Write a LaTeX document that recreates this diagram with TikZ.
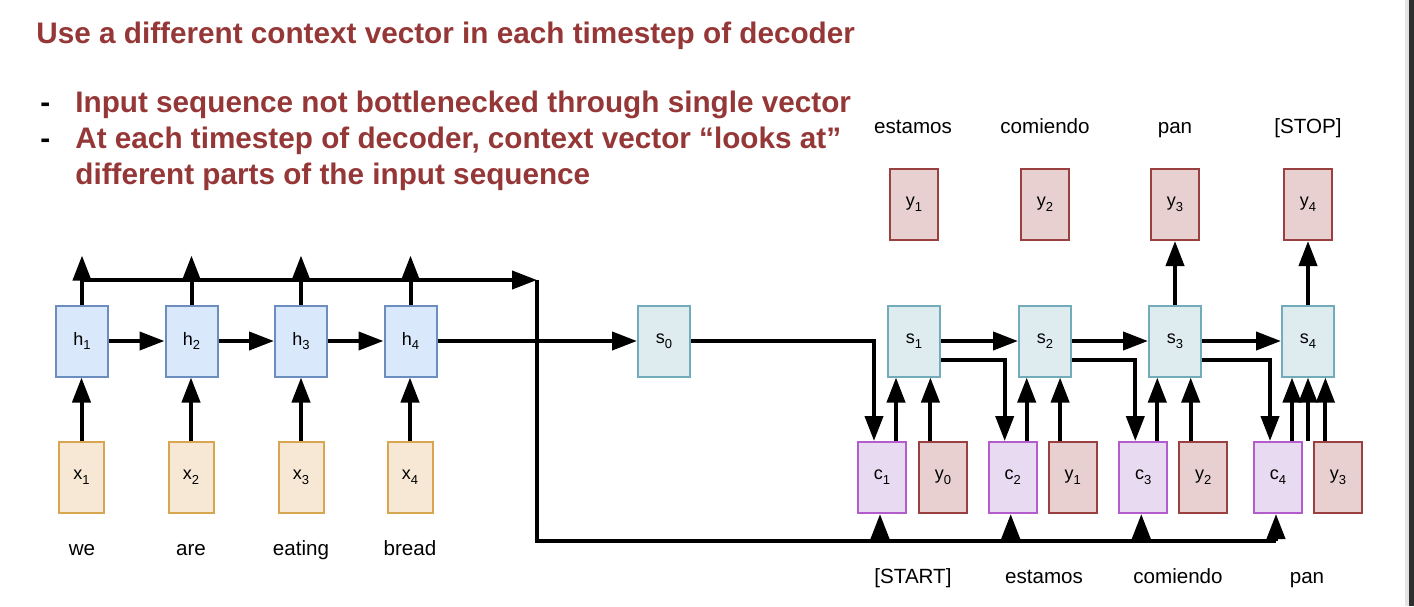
\documentclass[tikz,border=0pt]{standalone}
\usepackage{fontspec}
\setmainfont{Liberation Sans}
\usetikzlibrary{arrows.meta}

\definecolor{titlered}{RGB}{150,55,55}
\definecolor{hfill}{HTML}{DAE8FC}
\definecolor{hdraw}{HTML}{6C8EBF}
\definecolor{xfill}{HTML}{F6E8D4}
\definecolor{xdraw}{HTML}{D8A650}
\definecolor{sfill}{HTML}{DEEBEF}
\definecolor{sdraw}{HTML}{72ABB9}
\definecolor{cfill}{HTML}{E8DAF0}
\definecolor{cdraw}{HTML}{B35DCC}
\definecolor{yfill}{HTML}{E8D0D0}
\definecolor{ydraw}{HTML}{9A4040}
\definecolor{edgedark}{HTML}{2F2F2F}
\definecolor{edgegrey}{HTML}{E4E4E4}

\newcommand{\titlefont}{\fontsize{14.85}{18}\selectfont\bfseries}
\newcommand{\lsub}[1]{\raisebox{-0.5ex}{\fontsize{6.5}{7}\selectfont #1}}

\begin{document}
\begin{tikzpicture}[x=0.5pt,y=-0.5pt,
  txt/.style={inner sep=0pt},
  box/.style={line width=1pt,minimum width=26pt,minimum height=35.5pt,inner sep=0pt,
    font=\fontsize{9}{10}\selectfont},
  hbox/.style={box,draw=hdraw,fill=hfill},
  xbox/.style={box,draw=xdraw,fill=xfill,minimum width=22.5pt},
  sbox/.style={box,draw=sdraw,fill=sfill},
  cbox/.style={box,draw=cdraw,fill=cfill,minimum width=24pt},
  ybox/.style={box,draw=ydraw,fill=yfill,minimum width=24pt},
  word/.style={anchor=base,inner sep=0pt,font=\fontsize{10.3}{12}\selectfont},
  ln/.style={line width=2pt},
  arr/.style={line width=2pt,-{Triangle[length=12.5pt,width=9pt]}}]
\useasboundingbox (0,0) rectangle (1414,606);

% heading
\node[txt,anchor=base west,font=\titlefont,text=titlered] (title) at (36,43) {Use a different context vector in each timestep of decoder};
\node[txt,anchor=base west,font=\titlefont] (dash1) at (40,112) {-};
\node[txt,anchor=base west,font=\titlefont,text=titlered] (pt1) at (75,112) {Input sequence not bottlenecked through single vector};
\node[txt,anchor=base west,font=\titlefont] (dash2) at (40,148) {-};
\node[txt,anchor=base west,font=\titlefont,text=titlered] (pt2) at (75,148) {At each timestep of decoder, context vector “looks at”};
\node[txt,anchor=base west,font=\titlefont,text=titlered] (pt3) at (75,184) {different parts of the input sequence};

% encoder
\node[hbox] (h1) at (82,341) {h\lsub{1}};
\node[hbox] (h2) at (191.5,341) {h\lsub{2}};
\node[hbox] (h3) at (301,341) {h\lsub{3}};
\node[hbox] (h4) at (410.5,341) {h\lsub{4}};

\node[xbox] (x1) at (81.5,477.5) {x\lsub{1}};
\node[xbox] (x2) at (191,477.5) {x\lsub{2}};
\node[xbox] (x3) at (301,477.5) {x\lsub{3}};
\node[xbox] (x4) at (410,477.5) {x\lsub{4}};

\node[word] (we) at (82,555) {we};
\node[word] (are) at (191,555) {are};
\node[word] (eating) at (301,555) {eating};
\node[word] (bread) at (410,555) {bread};

% decoder
\node[sbox] (s0) at (664,341) {s\lsub{0}};
\node[sbox] (s1) at (914,341) {s\lsub{1}};
\node[sbox] (s2) at (1045,341) {s\lsub{2}};
\node[sbox] (s3) at (1175,341) {s\lsub{3}};
\node[sbox] (s4) at (1308,341) {s\lsub{4}};

\node[ybox] (yt1) at (914,204.5) {y\lsub{1}};
\node[ybox] (yt2) at (1045,204.5) {y\lsub{2}};
\node[ybox] (yt3) at (1175,204.5) {y\lsub{3}};
\node[ybox] (yt4) at (1308,204.5) {y\lsub{4}};

\node[word] (outA) at (913,133) {estamos};
\node[word] (outB) at (1045,133) {comiendo};
\node[word] (outC) at (1175,133) {pan};
\node[word] (outD) at (1308,133) {[STOP]};

\node[cbox] (c1) at (882,477.5) {c\lsub{1}};
\node[cbox] (c2) at (1012.7,477.5) {c\lsub{2}};
\node[cbox] (c3) at (1143.3,477.5) {c\lsub{3}};
\node[cbox] (c4) at (1278,477.5) {c\lsub{4}};

\node[ybox] (yb0) at (943,477.5) {y\lsub{0}};
\node[ybox] (yb1) at (1072.7,477.5) {y\lsub{1}};
\node[ybox] (yb2) at (1203.3,477.5) {y\lsub{2}};
\node[ybox] (yb3) at (1338,477.5) {y\lsub{3}};

\node[word] (inA) at (913,583) {[START]};
\node[word] (inB) at (1044,583) {estamos};
\node[word] (inC) at (1178,583) {comiendo};
\node[word] (inD) at (1307,583) {pan};

% encoder arrows
\draw[arr] (x1.north) -- (x1.north |- h1.south);
\draw[arr] (x2.north) -- (x2.north |- h2.south);
\draw[arr] (x3.north) -- (x3.north |- h3.south);
\draw[arr] (x4.north) -- (x4.north |- h4.south);
\draw[arr] (h1) -- (h2);
\draw[arr] (h2) -- (h3);
\draw[arr] (h3) -- (h4);
\draw[arr] (h4) -- (s0);
\draw[arr] (h1.north) -- ++(0,-49);
\draw[arr] (h2.north) -- ++(0,-49);
\draw[arr] (h3.north) -- ++(0,-49);
\draw[arr] (h4.north) -- ++(0,-49);

% attention bus
\coordinate (busL) at (82,280);
\coordinate (busR) at (537,280);
\coordinate (busB) at (537,541);
\draw[arr] (busL) -- (busR);
\draw[ln] (busR) -- (busB) -- ([xshift=-1pt]busB -| c4.south);
\draw[arr] ([xshift=-1pt]c1.south |- busB) -- ([xshift=-1pt]c1.south);
\draw[arr] ([xshift=-1pt]c2.south |- busB) -- ([xshift=-1pt]c2.south);
\draw[arr] ([xshift=-1pt]c3.south |- busB) -- ([xshift=-1pt]c3.south);
\draw[arr] ([xshift=-1pt]c4.south |- busB) -- ([xshift=-1pt]c4.south);

% decoder arrows
\draw[arr] (s0.east) -| ([xshift=-4pt]c1.north);
\draw[arr] (s1) -- (s2);
\draw[arr] (s2) -- (s3);
\draw[arr] (s3) -- (s4);
\draw[arr] ([yshift=-9.5pt]s1.east) -| ([xshift=-4pt]c2.north);
\draw[arr] ([yshift=-9.5pt]s2.east) -| ([xshift=-4pt]c3.north);
\draw[arr] ([yshift=-9.5pt]s3.east) -| ([xshift=-4pt]c4.north);

\draw[arr] ([xshift=7pt]c1.north) -- ([xshift=7pt]c1.north |- s1.south);
\draw[arr] ([xshift=7pt]c2.north) -- ([xshift=7pt]c2.north |- s2.south);
\draw[arr] ([xshift=7pt]c3.north) -- ([xshift=7pt]c3.north |- s3.south);
\draw[arr] ([xshift=7pt]c4.north) -- ([xshift=7pt]c4.north |- s4.south);
\draw[arr] ([xshift=-6.3pt]yb0.north) -- ([xshift=-6.3pt]yb0.north |- s1.south);
\draw[arr] ([xshift=-6.3pt]yb1.north) -- ([xshift=-6.3pt]yb1.north |- s2.south);
\draw[arr] ([xshift=-6.3pt]yb2.north) -- ([xshift=-6.3pt]yb2.north |- s3.south);
\draw[arr] ([xshift=-6.3pt]yb3.north) -- ([xshift=-6.3pt]yb3.north |- s4.south);
\draw[arr] (c4.north -| s4.south) -- (s4.south);

\draw[arr] (s3.north) -- (yt3.south);
\draw[arr] (s4.north) -- (yt4.south);

% window edge
\fill[edgegrey] (1405,0) rectangle (1409,606);
\fill[edgedark] (1409,0) rectangle (1414,606);
\end{tikzpicture}
\end{document}
